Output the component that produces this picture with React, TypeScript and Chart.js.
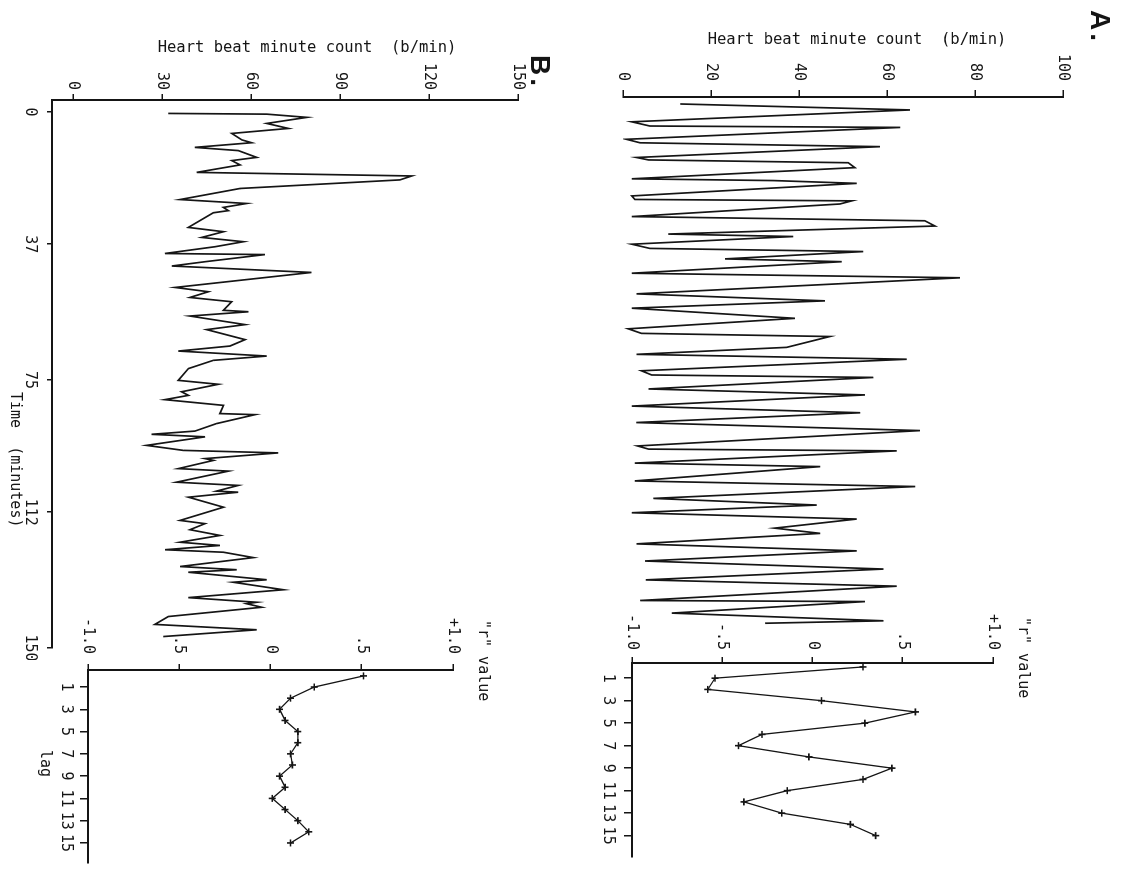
import React, { useEffect, useRef } from "react";
import { Chart, registerables } from "chart.js";

Chart.register(...registerables);

// ---------- data ----------
// Panel A: heart beat minute count (b/min) vs time (min)
const aTime = [2.0, 3.7, 7.1, 8.3, 8.7, 12.1, 13.1, 14.2, 17.3, 18.0, 18.8, 20.2, 23.4, 23.9, 24.7, 28.3, 29.3, 29.7, 30.6, 34.2, 35.4, 36.9, 39.2, 39.9, 42.1, 43.3, 44.2, 46.3, 47.1, 50.4, 51.7, 56.3, 58.3, 60.4, 63.3, 66.3, 67.6, 68.5, 71.6, 73.6, 75.0, 78.3, 79.5, 80.2, 83.5, 85.2, 88.4, 90.3, 93.1, 95.4, 99.8, 100.7, 101.2, 104.7, 105.7, 109.8, 111.4, 114.8, 116.7, 118.9, 120.7, 123.3, 124.8, 127.8, 129.8, 132.7, 135.0, 138.1, 139.9, 144.0, 144.3, 147.6, 149.8, 150.5];
const aRate = [13.0, 65.2, 2.0, 6.1, 63.0, 0.8, 3.9, 58.4, 3.1, 5.8, 51.2, 52.7, 2.0, 34.2, 53.1, 2.0, 2.7, 52.0, 49.3, 2.0, 68.6, 70.9, 10.3, 38.7, 2.0, 6.1, 54.6, 23.2, 49.7, 2.0, 76.6, 3.1, 45.9, 2.0, 39.1, 1.2, 4.2, 47.0, 37.2, 3.1, 64.5, 4.2, 6.5, 56.9, 5.8, 55.0, 2.0, 53.9, 3.0, 67.5, 3.3, 5.8, 62.2, 2.7, 44.8, 2.7, 66.4, 6.9, 44.0, 2.0, 53.1, 34.5, 44.8, 3.1, 53.1, 5.0, 59.2, 5.2, 62.2, 3.9, 55.0, 11.1, 59.2, 32.3];

// Panel B: heart beat minute count (b/min) vs time (min)
const bTime = [0.4, 0.6, 1.5, 3.2, 4.6, 6.0, 7.8, 8.6, 9.9, 10.8, 12.7, 13.6, 14.8, 16.9, 17.9, 19.0, 21.4, 24.5, 25.6, 26.7, 27.6, 28.2, 32.3, 33.5, 35.1, 36.3, 37.7, 39.6, 39.9, 41.9, 43.1, 44.9, 49.1, 50.3, 51.9, 53.1, 55.5, 55.9, 57.1, 59.5, 60.9, 63.7, 65.5, 66.9, 68.3, 69.5, 71.8, 75.1, 76.2, 78.3, 79.3, 80.5, 82.1, 84.4, 84.7, 87.2, 89.3, 90.2, 90.9, 93.3, 94.7, 95.4, 97.0, 97.5, 99.8, 100.5, 103.6, 104.5, 106.1, 106.4, 107.8, 110.6, 114.3, 115.2, 116.9, 118.5, 120.4, 121.3, 122.5, 123.2, 124.7, 127.2, 128.1, 128.8, 130.9, 131.6, 133.7, 135.9, 137.2, 137.6, 138.6, 141.2, 143.4, 144.9, 146.8];
const bRate = [32.1, 65.3, 78.8, 65.3, 72.6, 53.5, 56.9, 60.2, 41.1, 55.7, 61.9, 53.5, 56.3, 41.7, 114.2, 110.2, 56.3, 36.1, 58.5, 50.7, 52.4, 47.3, 38.9, 50.7, 43.4, 57.4, 47.9, 31.0, 64.7, 44.5, 33.3, 80.4, 34.4, 45.6, 39.4, 53.5, 50.7, 59.1, 39.4, 58.0, 45.1, 58.0, 52.9, 35.5, 65.3, 47.3, 38.9, 35.5, 49.0, 36.6, 38.9, 31.0, 50.7, 49.5, 61.3, 48.4, 41.1, 26.5, 44.5, 24.8, 37.2, 69.2, 44.5, 47.3, 35.5, 52.4, 34.9, 55.7, 48.4, 55.7, 38.9, 50.7, 36.1, 44.5, 39.4, 49.5, 36.1, 49.5, 31.0, 50.7, 60.8, 36.1, 55.2, 38.9, 65.3, 54.0, 70.9, 38.9, 61.9, 58.5, 63.6, 32.1, 27.6, 61.9, 30.4];

// Autocorrelation ("r" value) by lag
const lags = [0, 1, 2, 3, 4, 5, 6, 7, 8, 9, 10, 11, 12, 13, 14, 15];
const rA = [0.28, -0.54, -0.58, 0.05, 0.57, 0.29, -0.28, -0.41, -0.02, 0.44, 0.28, -0.14, -0.38, -0.17, 0.21, 0.35];
const rB = [0.51, 0.24, 0.11, 0.05, 0.08, 0.15, 0.15, 0.11, 0.12, 0.05, 0.08, 0.01, 0.08, 0.15, 0.21, 0.11];

// Tick values and labels
const aRateTicks = [0, 20, 40, 60, 80, 100];
const bRateTicks = [0, 30, 60, 90, 120, 150];
const bTimeTicks = [0, 37, 75, 112, 150];
const lagTicks = [1, 3, 5, 7, 9, 11, 13, 15];
const rTicks = [-1, -0.5, 0, 0.5, 1];
const rLabelsA = ["-1.0", "-.5", "0", ".5", "+1.0"];
const rLabelsB = ["-1.0", ".5", "0", ".5", "+1.0"];

// ---------- styling helpers ----------
const INK = "#151515";
const FONT = '"DejaVu Sans Mono", "Liberation Mono", monospace';

const fitTo = (size: number, horizontal: boolean) => (scale: any) => {
  if (horizontal) scale.height = size;
  else scale.width = size;
  scale.paddingLeft = 0;
  scale.paddingRight = 0;
  scale.paddingTop = 0;
  scale.paddingBottom = 0;
};

const setTicks = (vals: number[]) => (scale: any) => {
  scale.ticks = vals.map((v) => ({ value: v }));
};

const axis = (
  min: number,
  max: number,
  tickVals: number[],
  labels: string[],
  size: number,
  horizontal: boolean,
  tickLength: number,
  padding: number
) => ({
  type: "linear",
  min,
  max,
  afterFit: fitTo(size, horizontal),
  afterBuildTicks: setTicks(tickVals),
  grid: {
    display: true,
    drawOnChartArea: false,
    drawTicks: true,
    tickLength,
    color: INK,
    lineWidth: 1.5,
  },
  border: { display: true, color: INK, width: 2 },
  ticks: {
    color: INK,
    font: { family: FONT, size: 15 },
    padding,
    autoSkip: false,
    minRotation: 0,
    maxRotation: 0,
    callback: (_v: any, i: number) => labels[i],
  },
});

const baseOptions = (padding: any, scales: any) => ({
  responsive: false,
  animation: false,
  devicePixelRatio: 1,
  events: [],
  layout: { padding },
  plugins: { legend: { display: false }, tooltip: { enabled: false } },
  scales,
});

const seriesLine = (xs: number[], ys: number[]) => ({
  data: xs.map((x, i) => ({ x, y: ys[i] })),
  borderColor: INK,
  borderWidth: 1.7,
  pointRadius: 0,
  tension: 0,
  fill: false,
});

const rLine = (xs: number[], ys: number[]) => ({
  data: xs.map((x, i) => ({ x, y: ys[i] })),
  borderColor: INK,
  borderWidth: 1.3,
  pointStyle: "cross",
  pointRadius: 3.5,
  pointBorderWidth: 1.6,
  pointBorderColor: INK,
  pointBackgroundColor: INK,
  tension: 0,
  fill: false,
});

// ---------- chart specs (in the unrotated page frame, 869 x 1127) ----------
const specs = [
  {
    key: "aHeart",
    left: 0,
    top: 0,
    width: 640,
    height: 520,
    config: {
      type: "line",
      data: { datasets: [seriesLine(aTime, aRate)] },
      options: baseOptions(
        { top: 64, bottom: 16, right: 15, left: 0 },
        {
          x: { type: "linear", min: 0, max: 151, display: false },
          y: axis(0, 100, aRateTicks, aRateTicks.map(String), 97, false, 7, 9),
        }
      ),
    },
  },
  {
    key: "aR",
    left: 600,
    top: 100,
    width: 269,
    height: 440,
    config: {
      type: "line",
      data: { datasets: [rLine(lags, rA)] },
      options: baseOptions(
        { top: 34, bottom: 0, right: 12, left: 0 },
        {
          x: axis(-0.35, 16.9, lagTicks, lagTicks.map(String), 45, true, 8, 7),
          y: axis(-1, 1, rTicks, rLabelsA, 63, false, 6, 7),
        }
      ),
    },
  },
  {
    key: "bHeart",
    left: 0,
    top: 580,
    width: 660,
    height: 547,
    config: {
      type: "line",
      data: { datasets: [seriesLine(bTime, bRate)] },
      options: baseOptions(
        { top: 29, bottom: 0, right: 12, left: 0 },
        {
          x: axis(-3.36, 150, bTimeTicks, bTimeTicks.map(String), 52, true, 5, 8),
          y: axis(-7.08, 150, bRateTicks, bRateTicks.map(String), 100, false, 6, 4),
        }
      ),
    },
  },
  {
    key: "bR",
    left: 600,
    top: 620,
    width: 269,
    height: 507,
    config: {
      type: "line",
      data: { datasets: [rLine(lags, rB)] },
      options: baseOptions(
        { top: 54, bottom: 0, right: 6, left: 0 },
        {
          x: axis(-0.53, 16.8, lagTicks, lagTicks.map(String), 88, true, 8, 5),
          y: axis(-1, 1, rTicks, rLabelsB, 70, false, 6, 10),
        }
      ),
    },
  },
];

function ChartBox(props: { left: number; top: number; width: number; height: number; config: any }) {
  const ref = useRef<HTMLCanvasElement>(null);
  useEffect(() => {
    const chart = new Chart(ref.current as HTMLCanvasElement, props.config);
    return () => chart.destroy();
  }, []);
  return (
    <canvas
      ref={ref}
      width={props.width}
      height={props.height}
      style={{ position: "absolute", left: props.left, top: props.top, width: props.width, height: props.height }}
    />
  );
}

const textBase: React.CSSProperties = {
  position: "absolute",
  whiteSpace: "pre",
  fontFamily: FONT,
  fontSize: 15,
  lineHeight: 1,
  color: INK,
};

function Txt(props: { s: string; style: React.CSSProperties }) {
  return <div style={{ ...textBase, ...props.style }}>{props.s}</div>;
}

function VTitle(props: { s: string; cx: number; cy: number; size?: number }) {
  return (
    <div
      style={{
        ...textBase,
        fontSize: props.size || 15.5,
        left: props.cx,
        top: props.cy,
        transform: "translate(-50%, -50%) rotate(-90deg)",
      }}
    >
      {props.s}
    </div>
  );
}

const panelLetter: React.CSSProperties = {
  fontFamily: '"Liberation Sans", Arial, sans-serif',
  fontWeight: 700,
  fontSize: 28,
  letterSpacing: 3,
};

export default function App() {
  return (
    <div
      style={{
        position: "fixed",
        left: 0,
        top: 0,
        width: 1127,
        height: 869,
        overflow: "hidden",
        background: "#ffffff",
      }}
    >
      <div
        style={{
          position: "absolute",
          left: 0,
          top: 0,
          width: 869,
          height: 1127,
          transformOrigin: "0 0",
          transform: "translate(1127px, 0px) rotate(90deg)",
          background: "#ffffff",
        }}
      >
        {specs.map((s) => (
          <ChartBox key={s.key} left={s.left} top={s.top} width={s.width} height={s.height} config={s.config} />
        ))}
        <Txt s="A." style={{ ...panelLetter, left: 10, top: 13 }} />
        <Txt s="B." style={{ ...panelLetter, left: 55, top: 573 }} />
        <VTitle s="Heart beat minute count  (b/min)" cx={40} cy={270} />
        <VTitle s="Heart beat minute count  (b/min)" cx={48} cy={820} />
        <Txt s={'"r" value'} style={{ left: 617, top: 96 }} />
        <Txt s={'"r" value'} style={{ left: 620, top: 636 }} />
        <Txt s="lag" style={{ left: 750, top: 1074 }} />
        <Txt s="Time  (minutes)" style={{ left: 392, top: 1104 }} />
      </div>
    </div>
  );
}
